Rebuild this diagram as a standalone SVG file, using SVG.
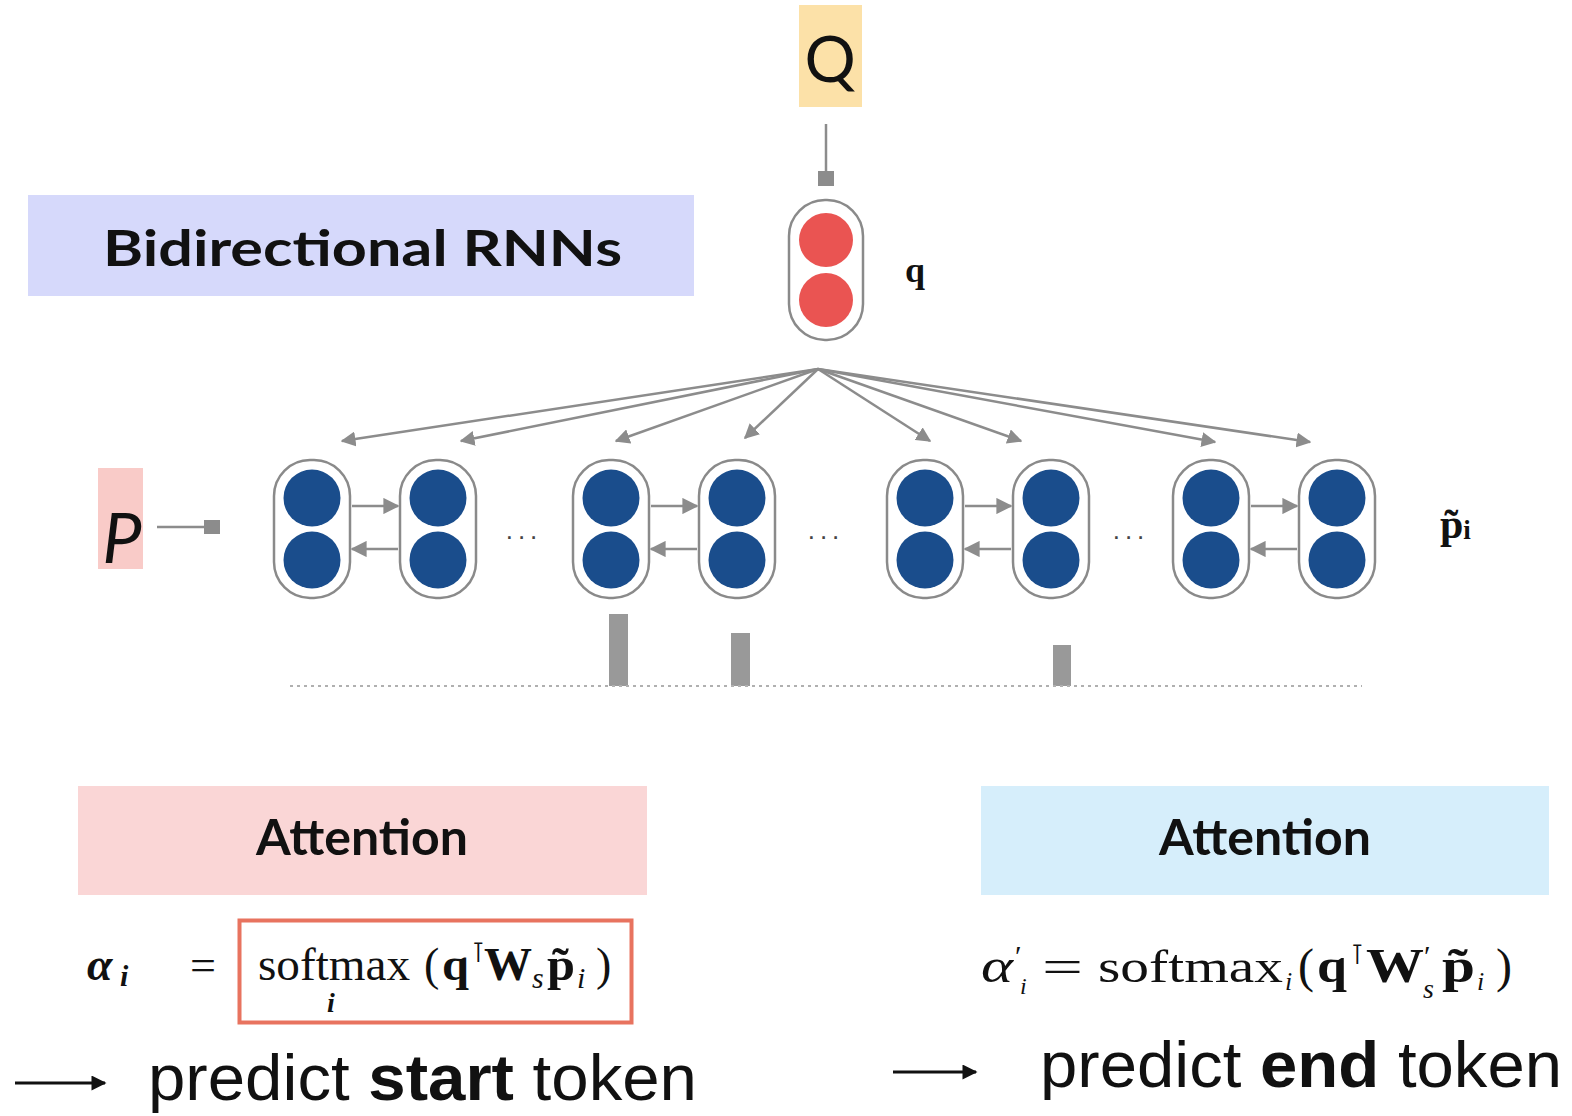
<svg xmlns="http://www.w3.org/2000/svg" width="1572" height="1116" viewBox="0 0 1572 1116">
  <style>
    .cap { fill: #ffffff; stroke: #8a8a8a; stroke-width: 2.5; }
    .blue { fill: #1a4d8c; }
    .red { fill: #ea5452; }
    .conn { stroke: #8c8c8c; stroke-width: 2.5; fill: none; }
    .head { fill: #8c8c8c; }
    .title { font-family: Lato, "Open Sans", sans-serif; font-weight: 700; fill: #111; }
    .math { font-family: "Liberation Serif", "DejaVu Serif", serif; fill: #111; }
    .it { font-style: italic; }
    .bf { font-weight: 700; }
    .plain { font-family: "Liberation Sans", Arial, sans-serif; fill: #111; }
    .dots { font-family: "Liberation Sans", sans-serif; fill: #444; font-size: 26px; }
  </style>
  <defs>
    <marker id="tri" viewBox="0 0 10 10" refX="9" refY="5" markerWidth="6" markerHeight="6" orient="auto" markerUnits="strokeWidth">
      <path d="M0,0 L10,5 L0,10 z" class="head"/>
    </marker>
    <marker id="tri-small" viewBox="0 0 10 10" refX="9" refY="5" markerWidth="6.5" markerHeight="6.5" orient="auto" markerUnits="strokeWidth">
      <path d="M0,0 L10,5 L0,10 z" class="head"/>
    </marker>
    <marker id="black" viewBox="0 0 10 10" refX="9" refY="5" markerWidth="6" markerHeight="5" orient="auto" markerUnits="strokeWidth">
      <path d="M0,0 L10,5 L0,10 z" fill="#111"/>
    </marker>
    <g id="cell">
      <rect x="-38" y="-69" width="76" height="138" rx="36" ry="36" class="cap"/>
      <circle cx="0" cy="-31" r="28.5" class="blue"/>
      <circle cx="0" cy="31" r="28.5" class="blue"/>
    </g>
  </defs>

  <rect width="1572" height="1116" fill="#ffffff"/>

  <!-- question input -->
  <g id="node-Q">
    <rect x="799" y="5" width="63" height="102" fill="#fce1a8"/>
    <text x="830" y="82" text-anchor="middle" font-family="Lato, 'Open Sans', sans-serif" font-size="64" fill="#111">Q</text>
  </g>

  <!-- question encoding q -->
  <g id="node-q">
    <rect x="789" y="200" width="74" height="140" rx="36" ry="36" class="cap"/>
    <circle cx="826" cy="240" r="27" class="red"/>
    <circle cx="826" cy="300" r="27" class="red"/>
    <text x="915" y="282" class="math bf" font-size="36" text-anchor="middle">q</text>
  </g>

  <g id="label-birnn">
    <rect x="28" y="195" width="666" height="101" fill="#d6d9fb"/>
    <text x="103" y="266" class="title" font-size="49" textLength="519" lengthAdjust="spacingAndGlyphs">Bidirectional RNNs</text>
  </g>

  <!-- passage input -->
  <g id="node-P">
    <rect x="98" y="468" width="45" height="101" fill="#f9cbc8"/>
    <text x="122" y="563" text-anchor="middle" font-family="Lato, 'Open Sans', sans-serif" font-style="italic" font-size="70" fill="#111">P</text>
  </g>

  <!-- passage bi-RNN cells -->
  <g id="node-p1"><use href="#cell" x="312" y="529"/></g>
  <g id="node-p2"><use href="#cell" x="438" y="529"/></g>
  <g id="node-p3"><use href="#cell" x="611" y="529"/></g>
  <g id="node-p4"><use href="#cell" x="737" y="529"/></g>
  <g id="node-p5"><use href="#cell" x="925" y="529"/></g>
  <g id="node-p6"><use href="#cell" x="1051" y="529"/></g>
  <g id="node-p7"><use href="#cell" x="1211" y="529"/></g>
  <g id="node-p8"><use href="#cell" x="1337" y="529"/></g>

  <g id="ellipses">
    <text x="524" y="539" class="dots" text-anchor="middle" letter-spacing="5">...</text>
    <text x="826" y="539" class="dots" text-anchor="middle" letter-spacing="5">...</text>
    <text x="1131" y="539" class="dots" text-anchor="middle" letter-spacing="5">...</text>
  </g>

  <g id="label-ptilde">
    <text x="1440" y="538" class="math bf" font-size="42">p̃<tspan font-size="27" dy="1">i</tspan></text>
  </g>

  <!-- attention weights -->
  <g id="attention-bars">
    <rect x="609" y="614" width="19" height="72" fill="#999999"/>
    <rect x="731" y="633" width="19" height="53" fill="#999999"/>
    <rect x="1053" y="645" width="18" height="41" fill="#999999"/>
    <line x1="290" y1="686" x2="1362" y2="686" stroke="#b0b0b0" stroke-width="2" stroke-dasharray="3 4"/>
  </g>

  <g id="connectors">
    <!-- Q to q -->
    <line x1="826" y1="124" x2="826" y2="173" class="conn"/>
    <rect x="818" y="171" width="16" height="15" fill="#8c8c8c"/>
    <!-- P to passage -->
    <line x1="157" y1="527" x2="206" y2="527" class="conn"/>
    <rect x="204" y="520" width="16" height="14" fill="#8c8c8c"/>
    <!-- q fanned out to every passage cell -->
    <line x1="818" y1="369" x2="342" y2="441" class="conn" marker-end="url(#tri)"/>
    <line x1="818" y1="369" x2="461" y2="441" class="conn" marker-end="url(#tri)"/>
    <line x1="818" y1="369" x2="616" y2="441" class="conn" marker-end="url(#tri)"/>
    <line x1="818" y1="369" x2="745" y2="438" class="conn" marker-end="url(#tri)"/>
    <line x1="818" y1="369" x2="930" y2="441" class="conn" marker-end="url(#tri)"/>
    <line x1="818" y1="369" x2="1021" y2="441" class="conn" marker-end="url(#tri)"/>
    <line x1="818" y1="369" x2="1215" y2="442" class="conn" marker-end="url(#tri)"/>
    <line x1="818" y1="369" x2="1310" y2="442" class="conn" marker-end="url(#tri)"/>
    <!-- forward / backward recurrences -->
    <line x1="352" y1="506" x2="398" y2="506" class="conn" marker-end="url(#tri-small)"/>
    <line x1="398" y1="549" x2="352" y2="549" class="conn" marker-end="url(#tri-small)"/>
    <line x1="651" y1="506" x2="697" y2="506" class="conn" marker-end="url(#tri-small)"/>
    <line x1="697" y1="549" x2="651" y2="549" class="conn" marker-end="url(#tri-small)"/>
    <line x1="965" y1="506" x2="1011" y2="506" class="conn" marker-end="url(#tri-small)"/>
    <line x1="1011" y1="549" x2="965" y2="549" class="conn" marker-end="url(#tri-small)"/>
    <line x1="1251" y1="506" x2="1297" y2="506" class="conn" marker-end="url(#tri-small)"/>
    <line x1="1297" y1="549" x2="1251" y2="549" class="conn" marker-end="url(#tri-small)"/>
    <!-- prediction arrows -->
    <line x1="15" y1="1083" x2="105" y2="1083" stroke="#111" stroke-width="3" marker-end="url(#black)"/>
    <line x1="893" y1="1072" x2="976" y2="1072" stroke="#111" stroke-width="3" marker-end="url(#black)"/>
  </g>

  <!-- start attention -->
  <g id="attention-start">
    <rect x="78" y="786" width="569" height="109" fill="#fad6d6"/>
    <text x="362" y="855" class="title" font-size="50" text-anchor="middle">Attention</text>
    <text x="87" y="980" class="math it bf" font-size="46">α</text>
    <text x="120" y="986" class="math it bf" font-size="30">i</text>
    <text x="190" y="980" class="math" font-size="44" textLength="26" lengthAdjust="spacingAndGlyphs">=</text>
    <rect x="239.5" y="920.5" width="392" height="102" fill="none" stroke="#e8735f" stroke-width="4"/>
    <!-- softmax over i of q^T W_s p_i -->
    <text x="258" y="980" class="math" font-size="46" textLength="152" lengthAdjust="spacingAndGlyphs">softmax</text>
    <text x="331" y="1012" class="math it bf" font-size="28" text-anchor="middle">i</text>
    <text x="424" y="980" class="math" font-size="46">(</text>
    <text x="442" y="980" class="math bf" font-size="46" textLength="27" lengthAdjust="spacingAndGlyphs">q</text>
    <text x="471" y="962" class="math" font-size="28">⊺</text>
    <text x="484" y="980" class="math bf" font-size="46" textLength="48" lengthAdjust="spacingAndGlyphs">W</text>
    <text x="532" y="988" class="math it" font-size="30">s</text>
    <text x="547" y="980" class="math bf" font-size="46" textLength="28" lengthAdjust="spacingAndGlyphs">p̃</text>
    <text x="577" y="988" class="math it" font-size="30">i</text>
    <text x="596" y="980" class="math" font-size="46">)</text>
    <text x="148" y="1100" class="plain" font-size="64" textLength="549" lengthAdjust="spacingAndGlyphs">predict <tspan font-weight="700">start</tspan> token</text>
  </g>

  <!-- end attention -->
  <g id="attention-end">
    <rect x="981" y="786" width="568" height="109" fill="#d6eefb"/>
    <text x="1265" y="855" class="title" font-size="50" text-anchor="middle">Attention</text>
    <!-- alpha'_i = softmax_i(q^T W'_s p_i) -->
    <text x="981" y="982" class="math it" font-size="48" textLength="32" lengthAdjust="spacingAndGlyphs">α</text>
    <text x="1015" y="966" class="math" font-size="30">′</text>
    <text x="1020" y="994" class="math it" font-size="24">i</text>
    <text x="1042" y="982" class="math" font-size="46" textLength="41" lengthAdjust="spacingAndGlyphs">=</text>
    <text x="1098" y="982" class="math" font-size="46" textLength="185" lengthAdjust="spacingAndGlyphs">softmax</text>
    <text x="1285" y="990" class="math it" font-size="26">i</text>
    <text x="1298" y="982" class="math" font-size="48">(</text>
    <text x="1317" y="982" class="math bf" font-size="48" textLength="30" lengthAdjust="spacingAndGlyphs">q</text>
    <text x="1350" y="964" class="math" font-size="28">⊺</text>
    <text x="1366" y="982" class="math bf" font-size="48" textLength="58" lengthAdjust="spacingAndGlyphs">W</text>
    <text x="1424" y="966" class="math" font-size="30">′</text>
    <text x="1423" y="998" class="math it" font-size="28">s</text>
    <text x="1442" y="982" class="math bf" font-size="48" textLength="33" lengthAdjust="spacingAndGlyphs">p̃</text>
    <text x="1477" y="990" class="math it" font-size="26">i</text>
    <text x="1496" y="982" class="math" font-size="48">)</text>
    <text x="1040" y="1087" class="plain" font-size="64" textLength="522" lengthAdjust="spacingAndGlyphs">predict <tspan font-weight="700">end</tspan> token</text>
  </g>
</svg>
